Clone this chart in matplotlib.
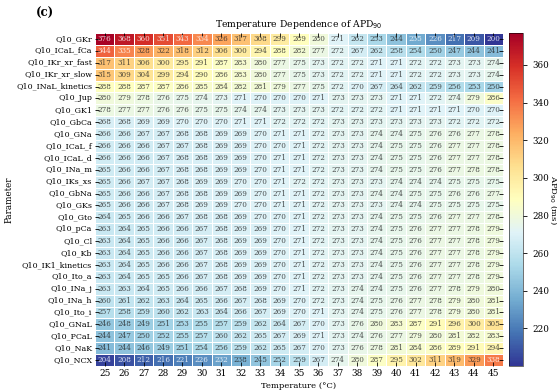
import numpy as np
import matplotlib
matplotlib.use('Agg')
import matplotlib.pyplot as plt
import seaborn as sns

plt.rcParams['font.family'] = ['DejaVu Serif']

temps = list(range(25, 46))
params = ['Q10_GKr', 'Q10_ICaL_fCa', 'Q10_IKr_xr_fast', 'Q10_IKr_xr_slow',
          'Q10_INaL_kinetics', 'Q10_Jup', 'Q10_GK1', 'Q10_GbCa', 'Q10_GNa',
          'Q10_ICaL_f', 'Q10_ICaL_d', 'Q10_INa_m', 'Q10_IKs_xs', 'Q10_GbNa',
          'Q10_GKs', 'Q10_Gto', 'Q10_pCa', 'Q10_Cl', 'Q10_Kb', 'Q10_IK1_kinetics',
          'Q10_Ito_a', 'Q10_INa_j', 'Q10_INa_h', 'Q10_Ito_i', 'Q10_GNaL',
          'Q10_PCaL', 'Q10_NaK', 'Q10_NCX']

apd = [
    [376, 368, 360, 351, 343, 334, 326, 317, 308, 299, 289, 280, 271, 262, 253, 244, 235, 226, 217, 209, 200],
    [344, 335, 328, 322, 318, 312, 306, 300, 294, 288, 282, 277, 272, 267, 262, 258, 254, 250, 247, 244, 241],
    [317, 311, 306, 300, 295, 291, 287, 283, 280, 277, 275, 273, 272, 272, 271, 271, 272, 272, 273, 273, 274],
    [315, 309, 304, 299, 294, 290, 286, 283, 280, 277, 275, 273, 272, 272, 271, 271, 272, 272, 273, 273, 274],
    [288, 288, 287, 287, 286, 285, 284, 282, 281, 279, 277, 275, 272, 270, 267, 264, 262, 259, 256, 253, 250],
    [280, 279, 278, 276, 275, 274, 273, 271, 270, 270, 270, 271, 273, 273, 273, 271, 271, 272, 274, 279, 286],
    [278, 277, 277, 276, 276, 275, 275, 274, 274, 273, 273, 273, 272, 272, 272, 271, 271, 271, 271, 270, 270],
    [268, 268, 269, 269, 270, 270, 270, 271, 271, 272, 272, 272, 273, 273, 273, 273, 273, 273, 272, 272, 272],
    [266, 266, 267, 267, 268, 268, 269, 269, 270, 271, 271, 272, 273, 273, 274, 274, 275, 276, 276, 277, 278],
    [266, 266, 266, 267, 267, 268, 269, 269, 270, 270, 271, 272, 273, 273, 274, 275, 275, 276, 277, 277, 278],
    [266, 266, 266, 267, 268, 268, 269, 269, 270, 271, 271, 272, 273, 273, 274, 275, 275, 276, 277, 277, 278],
    [265, 266, 266, 267, 268, 268, 269, 269, 270, 271, 271, 272, 273, 273, 274, 275, 275, 276, 277, 278, 278],
    [265, 266, 267, 267, 268, 269, 269, 270, 270, 271, 272, 272, 273, 273, 273, 274, 274, 274, 275, 275, 275],
    [265, 266, 266, 267, 268, 268, 269, 269, 270, 271, 271, 272, 273, 273, 274, 274, 275, 275, 276, 276, 277],
    [265, 266, 266, 267, 268, 269, 269, 270, 270, 271, 271, 272, 273, 273, 273, 274, 274, 275, 275, 275, 275],
    [264, 265, 266, 266, 267, 268, 268, 269, 270, 270, 271, 272, 273, 273, 274, 275, 275, 276, 277, 277, 278],
    [263, 264, 265, 266, 266, 267, 268, 269, 269, 270, 271, 272, 273, 273, 274, 275, 276, 277, 277, 278, 279],
    [263, 264, 265, 266, 266, 267, 268, 269, 269, 270, 271, 272, 273, 273, 274, 275, 276, 277, 277, 278, 279],
    [263, 264, 265, 266, 266, 267, 268, 269, 269, 270, 271, 272, 273, 273, 274, 275, 276, 277, 277, 278, 279],
    [263, 264, 265, 266, 266, 267, 268, 269, 269, 270, 271, 272, 273, 273, 274, 275, 276, 277, 277, 278, 279],
    [263, 264, 265, 265, 266, 267, 268, 269, 269, 270, 271, 272, 273, 273, 274, 275, 276, 277, 277, 278, 279],
    [263, 263, 264, 265, 266, 266, 267, 268, 269, 270, 271, 272, 273, 274, 274, 275, 276, 277, 278, 279, 280],
    [260, 261, 262, 263, 264, 265, 266, 267, 268, 269, 270, 272, 273, 274, 275, 276, 277, 278, 279, 280, 281],
    [257, 258, 259, 260, 262, 263, 264, 266, 267, 269, 270, 271, 273, 274, 275, 276, 277, 278, 279, 280, 281],
    [246, 248, 249, 251, 253, 255, 257, 259, 262, 264, 267, 270, 273, 276, 280, 283, 287, 291, 296, 300, 305],
    [244, 247, 250, 252, 255, 257, 260, 262, 265, 267, 269, 271, 273, 274, 276, 277, 279, 280, 281, 282, 283],
    [241, 244, 246, 249, 251, 254, 256, 259, 262, 265, 267, 270, 273, 276, 278, 281, 284, 286, 289, 291, 294],
    [204, 208, 212, 216, 221, 226, 232, 238, 245, 252, 259, 267, 274, 280, 287, 295, 302, 311, 319, 329, 338],
]
data = np.array(apd)

fig = plt.figure(figsize=(5.57, 3.92), dpi=100)
ax = fig.add_axes([0.1706, 0.0663, 0.7325, 0.8495])
cax = fig.add_axes([0.9138, 0.0663, 0.0251, 0.8495])

sns.heatmap(data, ax=ax, cbar_ax=cax, cmap='RdYlBu_r', vmin=200, vmax=377,
            annot=True, fmt='d', annot_kws={'fontsize': 5.2, 'alpha': 0.8},
            linewidths=0.4, linecolor='white',
            xticklabels=temps, yticklabels=params)

ax.tick_params(axis='both', direction='in', top=True, right=True, length=3,
               width=0.6, labelsize=6.4, pad=2)
ax.tick_params(axis='y', labelsize=5.7)
ax.set_yticklabels(params, rotation=0)
ax.set_xticklabels(temps, rotation=0)
ax.set_xlabel('Temperature (°C)', fontsize=6.1, labelpad=3)
ax.set_ylabel('Parameter', fontsize=6.3, labelpad=2)
ax.set_title('Temperature Dependence of APD$_{90}$', fontsize=6.7, pad=4)

cb = ax.collections[0].colorbar
cb.set_ticks([220, 240, 260, 280, 300, 320, 340, 360])
cb.ax.tick_params(labelsize=6.3, length=3, width=0.6)
cb.set_label('APD$_{90}$ (ms)', fontsize=6.1, rotation=270, labelpad=7)
cb.outline.set_visible(True)
cb.outline.set_linewidth(0.4)

fig.text(0.065, 0.965, '(c)', fontsize=8.5, fontweight='bold', va='center')

fig.savefig('out.png', dpi=100)
